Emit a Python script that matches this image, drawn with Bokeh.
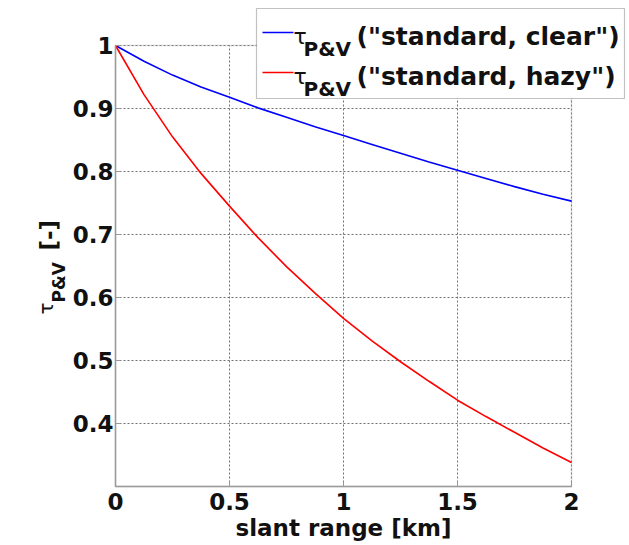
import math
from bokeh.plotting import figure
from bokeh.models import (FixedTicker, Range1d, Label, BoxAnnotation, Arrow,
                          LinearAxis, Grid)
from bokeh.embed import file_html
from bokeh.resources import INLINE

# ---- data ----
slant_range_km = [0.0, 0.125, 0.25, 0.375, 0.5, 0.625, 0.75, 0.875, 1.0,
                  1.125, 1.25, 1.375, 1.5, 1.625, 1.75, 1.875, 2.0]
tau_clear = [1.0, 0.975, 0.953, 0.934, 0.918, 0.901, 0.886, 0.871, 0.857,
             0.843, 0.829, 0.815, 0.802, 0.789, 0.776, 0.764, 0.753]
tau_hazy = [1.0, 0.922, 0.855, 0.797, 0.745, 0.695, 0.649, 0.607, 0.567,
            0.531, 0.498, 0.467, 0.437, 0.411, 0.386, 0.361, 0.338]

x_ticks = [0, 0.5, 1, 1.5, 2]
x_tick_labels = ["0", "0.5", "1", "1.5", "2"]
y_ticks = [0.4, 0.5, 0.6, 0.7, 0.8, 0.9, 1.0]
y_tick_labels = ["0.4", "0.5", "0.6", "0.7", "0.8", "0.9", "1"]
x_limits = (0.0, 2.0)
y_limits = (0.3, 1.0)

series_names = ['("standard, clear")', '("standard, hazy")']
series_colors = ["#0000ff", "#ff0000"]
x_label = "slant range [km]"

# ---- layout (pixels) ----
W, H = 629, 545
BOX_L, BOX_R, BOX_T, BOX_B = 115, 571, 45, 486
FONT = "DejaVu Sans"
TXT = "#111111"
FRAME_COL = "#9a9a9a"

xs = (BOX_R - BOX_L) / (x_limits[1] - x_limits[0])
ys = (BOX_B - BOX_T) / (y_limits[1] - y_limits[0])
x_range = Range1d(x_limits[0] - BOX_L / xs, x_limits[1] + (W - BOX_R) / xs)
y_range = Range1d(y_limits[0] - (H - BOX_B) / ys, y_limits[1] + BOX_T / ys)

p = figure(width=W, height=H, x_range=x_range, y_range=y_range,
           x_axis_location=None, y_axis_location=None,
           min_border=0, output_backend="svg", toolbar_location=None)
p.background_fill_color = "white"
p.border_fill_color = "white"
p.outline_line_color = None
p.xgrid.visible = False
p.ygrid.visible = False

# grid lines limited to the plot box
for dim, ticks, cross in ((0, x_ticks, y_limits), (1, y_ticks, x_limits)):
    kw = dict(dimension=dim, ticker=FixedTicker(ticks=ticks),
              grid_line_color="#707070", grid_line_dash="2 2", grid_line_width=1)
    if "cross_bounds" in Grid.properties():
        g = Grid(cross_bounds=cross, **kw)
        p.add_layout(g)
    else:
        if dim == 0:
            p.segment(x0=ticks, x1=ticks, y0=[cross[0]] * len(ticks),
                      y1=[cross[1]] * len(ticks), line_color="#707070",
                      line_dash="2 2", line_width=1)
        else:
            p.segment(y0=ticks, y1=ticks, x0=[cross[0]] * len(ticks),
                      x1=[cross[1]] * len(ticks), line_color="#707070",
                      line_dash="2 2", line_width=1)

# box around the plot area
p.add_layout(BoxAnnotation(left=x_limits[0], right=x_limits[1],
                           bottom=y_limits[0], top=y_limits[1],
                           fill_color=None, line_color=FRAME_COL,
                           line_width=1.5, level="underlay"))

p.line(slant_range_km, tau_clear, line_color=series_colors[0], line_width=1.6)
p.line(slant_range_km, tau_hazy, line_color=series_colors[1], line_width=1.6)

xaxis = LinearAxis(fixed_location=y_limits[0], bounds=x_limits)
yaxis = LinearAxis(fixed_location=x_limits[0], bounds=y_limits)
p.add_layout(xaxis, "below")
p.add_layout(yaxis, "left")
for ax, ticks, labels in ((xaxis, x_ticks, x_tick_labels),
                          (yaxis, y_ticks, y_tick_labels)):
    ax.ticker = FixedTicker(ticks=ticks)
    ax.major_label_overrides = {t: l for t, l in zip(ticks, labels)}
    ax.minor_tick_line_color = None
    ax.major_tick_in = 5
    ax.major_tick_out = 0
    ax.major_tick_line_color = FRAME_COL
    ax.axis_line_color = FRAME_COL
    ax.axis_line_width = 1.5
    ax.major_label_text_font = FONT
    ax.major_label_text_font_style = "bold"
    ax.major_label_text_font_size = "23px"
    ax.major_label_text_color = TXT
xaxis.major_label_standoff = 6
yaxis.major_label_standoff = 2

xaxis.axis_label = x_label
xaxis.axis_label_text_font = FONT
xaxis.axis_label_text_font_style = "bold"
xaxis.axis_label_text_font_size = "23px"
xaxis.axis_label_text_color = TXT
xaxis.axis_label_standoff = 2

# screen units: origin at bottom-left of canvas
def sy(y_page):
    return H - y_page

# ---- y axis label: tau with subscript, rotated ----
rot = math.pi / 2
p.add_layout(Label(x=45, y=sy(314), x_units="screen", y_units="screen", angle=rot,
                   text="τ", text_font=FONT, text_font_size="20px",
                   text_color=TXT, text_baseline="alphabetic"))
p.add_layout(Label(x=58, y=sy(302), x_units="screen", y_units="screen", angle=rot,
                   text="P&V", text_font=FONT, text_font_style="bold",
                   text_font_size="17px", text_color=TXT,
                   text_baseline="alphabetic"))
p.add_layout(Label(x=48, y=sy(250), x_units="screen", y_units="screen", angle=rot,
                   text="[-]", text_font=FONT, text_font_style="bold",
                   text_font_size="23px", text_color=TXT,
                   text_baseline="alphabetic"))

# ---- legend (manual, to allow subscripts) ----
p.add_layout(BoxAnnotation(left=256, right=624, bottom=sy(98), top=sy(8),
                           left_units="screen", right_units="screen",
                           bottom_units="screen", top_units="screen",
                           fill_color="white", fill_alpha=1.0,
                           line_color="#333333", line_width=1.2,
                           level="overlay"))
rows_baseline = [36, 76]
for name, color, yb in zip(series_names, series_colors, rows_baseline):
    p.add_layout(Arrow(end=None, x_start=262, y_start=sy(yb - 4), x_end=293,
                       y_end=sy(yb - 4), start_units="screen", end_units="screen",
                       line_color=color, line_width=1.6, level="overlay"))
    p.add_layout(Label(x=293, y=sy(yb), x_units="screen", y_units="screen",
                       text="τ", text_font=FONT, text_font_size="22px",
                       text_color=TXT, text_baseline="alphabetic", level="overlay"))
    p.add_layout(Label(x=303, y=sy(yb + 12), x_units="screen", y_units="screen",
                       text="P&V", text_font=FONT, text_font_style="bold",
                       text_font_size="20px", text_color=TXT,
                       text_baseline="alphabetic", level="overlay"))
    p.add_layout(Label(x=356, y=sy(yb), x_units="screen", y_units="screen",
                       text=name, text_font=FONT, text_font_style="bold",
                       text_font_size="25px", text_color=TXT,
                       text_baseline="alphabetic", level="overlay"))

open("out.html", "w").write(file_html(p, INLINE))
